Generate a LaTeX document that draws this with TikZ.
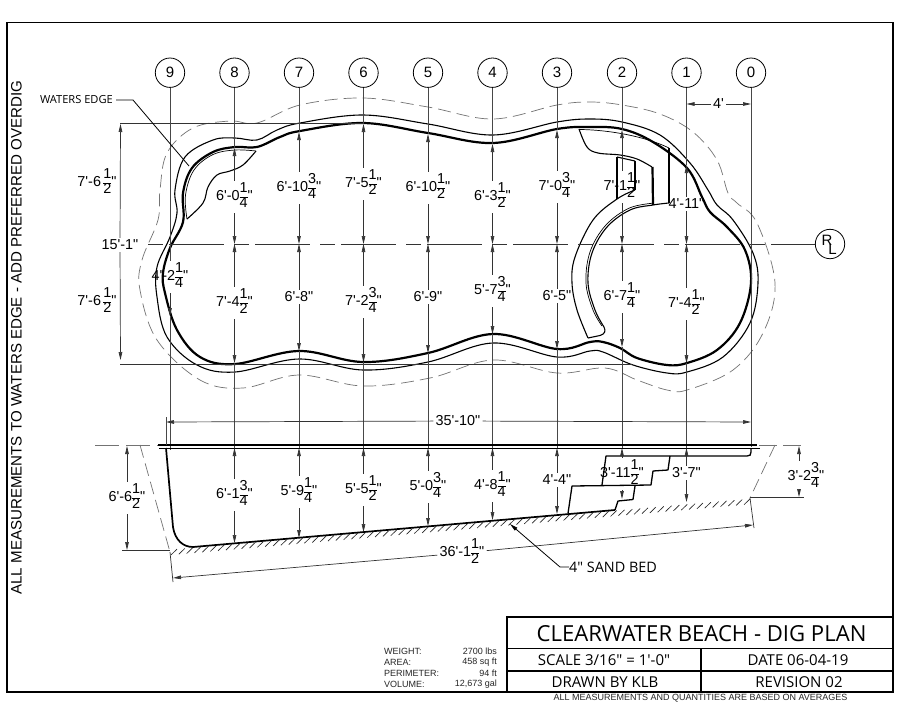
\documentclass[tikz,border=0pt]{standalone}
\usepackage{fontspec}
\setmainfont{Liberation Sans}[Ligatures=TeXOff]
\newfontfamily\titlefont{Open Sans}
\usetikzlibrary{arrows.meta,calc}
\newcommand\fr[2]{\raisebox{-7pt}{\setlength{\tabcolsep}{0pt}\renewcommand{\arraystretch}{.84}\begin{tabular}[b]{c}#1\\\hline #2\end{tabular}}}
\tikzset{
  gridln/.style={line width=.8pt,draw=black!72},
  dimln/.style={line width=.7pt,draw=black!80,-{Stealth[length=8pt,width=3.6pt,inset=0pt]}},
  dimplain/.style={line width=.7pt,draw=black!80},
  wallthick/.style={line width=2.2pt,line join=round},
  wallthin/.style={line width=1.1pt,line join=round},
  finethin/.style={line width=.7pt,line join=round},
  overdig/.style={line width=.7pt,draw=black!55,dash pattern=on 13pt off 6pt},
  lbl/.style={inner sep=2pt,font=\fontsize{14.4}{16}\selectfont},
  bubble/.style={circle,draw,line width=.8pt,minimum size=29.4pt,inner sep=0pt,font=\fontsize{15}{17}\selectfont},
  heavyln/.style={line width=1.7pt},
  stairln/.style={line width=1.3pt,line join=round},
  tblock/.style={font=\titlefont\fontsize{15}{17}\selectfont,inner sep=0pt},
  smalltxt/.style={font=\fontsize{9}{10}\selectfont,inner sep=0pt,text=black!85},
}
% id, x, top wall y, top text, top text y, bottom text, bottom text y, bottom wall y
\newcommand\plancol[8]{%
  \coordinate (tw#1) at (#2,#3);
  \coordinate (mid#1) at (#2,244);
  \coordinate (bw#1) at (#2,#8);
  \coordinate (st#1) at (#2,448);
  \node[lbl] (ta#1) at (#2,#5) {#4};
  \node[lbl] (ba#1) at (#2,#7) {#6};
  \draw[gridln] (c#1) -- (tw#1);
  \draw[dimln] (ta#1) -- (tw#1);
  \draw[dimln] (ta#1) -- (mid#1);
  \draw[dimln] (ba#1) -- (mid#1);
  \draw[dimln] (ba#1) -- (bw#1);
  \draw[gridln] (bw#1) -- (st#1);
}
% id, x, text, text y, floor y
\newcommand\seccol[5]{%
  \coordinate (sf#1) at (#2,#5);
  \node[lbl] (sa#1) at (#2,#4) {#3};
  \draw[dimln] (sa#1) -- (st#1);
  \draw[dimln] (sa#1) -- (sf#1);
}
\begin{document}
\begin{tikzpicture}[x=1pt,y=-1pt]
\useasboundingbox (0,0) rectangle (900,707);
\fill[white] (0,0) rectangle (900,707);
% frame
\draw[line width=1.4pt] (7,22.5) -- (893,22.5) -- (893,692) -- (7,692) -- cycle;
% over-dig outline
\draw[overdig] plot[smooth cycle,tension=.6] coordinates {
 (300,105)(363,98)(428,107)(493,119)(557,105)(590,102)(622,105)(660,114)(693,132)(717,160)(728,193)(737,203)(757,223)(775,283)(763,333)(733,370)(687,390)(667,390)(637,380)(605,368)(557,373)(493,360)(430,378)(363,386)(299,375)(243,388)(200,380)(157,340)(140,290)(142,260)(158,220)(160,190)(167,153)(193,128)(230,121)(257,123)};
% outer wall
\draw[wallthin] plot[smooth cycle,tension=.6] coordinates {
 (300,123)(363,115)(428,124)(493,135)(557,122)(590,119)(622,122)(660,135)(690,163)(708,190)(717,205)(733,220)(753,253)(758,283)(750,323)(723,357)(687,372)(667,373)(633,365)(603,352)(590,351)(557,357)(493,343)(428,362)(363,370)(299,359)(235,372)(197,365)(167,337)(157,297)(157,267)(170,237)(177,213)(175,190)(185,157)(213,140)(235,138)(257,140)(277,130)};
% waters edge
\draw[wallthick] plot[smooth cycle,tension=.6] coordinates {
 (300,131)(363,123)(428,133)(493,143)(557,129)(590,127)(622,129)(653,142)(687,168)(702,197)(710,212)(727,227)(745,250)(751,283)(740,323)(717,350)(687,363)(667,365)(637,358)(620,348)(603,342)(590,342)(557,349)(493,334)(428,353)(363,362)(299,351)(235,364)(200,357)(177,330)(165,293)(163,273)(170,248)(183,222)(183,193)(192,168)(213,152)(235,147)(257,147)(280,137)};
% left bench
\draw[wallthin] plot[smooth,tension=.6] coordinates {(256,151)(243,165)(230,171)(217,175)(208,187)(203,203)(187,219)};
\draw[finethin] plot[smooth,tension=.6] coordinates {(187,219)(185.5,195)(194,170)(213,154.5)(235,150)(256,151)};
% right steps
\draw[wallthin] plot[smooth,tension=.6] coordinates {(579,129)(587,147)(598,153)(620,155)(637,159)(652,167)};
\draw[finethin] (579,129.5) .. controls (600,129.5) and (640,134) .. (669,148);
\draw[wallthick] (652.5,167) -- (653,205);
\draw[wallthick] (669,148) -- (669,203);
\draw[wallthin] (617,157) -- (617,199);
\draw[wallthin] (617,157) -- (635,161);
\draw[wallthick] (635,161) -- (635,190);
\draw[wallthin] plot[smooth,tension=.6] coordinates {(635,190)(617,199)(593,220)(575,257)(572,283)(577,310)(588,338)};
\draw[wallthin] (588,338) -- (600,335.5) .. controls (605,334) and (606,331) .. (604,327);
\draw[wallthin] plot[smooth,tension=.6] coordinates {(604,327)(595,310)(588,283)(592,253)(607,227)(630,210)(653,205)(669,203)};
\draw[finethin] plot[smooth,tension=.6] coordinates {(602,326)(593,310)(586,283)(590,252)(605.5,225.5)(629,208.2)(653,203.2)};
% tangents
\draw[dimplain] (120,123) -- (363,123);
\draw[dimplain] (120,364) -- (632,364);
% centre line
\node[bubble] (rl) at (830,244) {};
\node[font=\fontsize{15}{17}\selectfont,inner sep=0pt] (rlr) at (827,240) {R};
\node[font=\fontsize{15}{17}\selectfont,inner sep=0pt] (rll) at (832.5,249.5) {L};
\coordinate (clstart) at (148,244);
\draw[dimplain,dash pattern=on 15pt off 6pt on 55pt off 10pt] (clstart) -- (rl);
% bubbles
\node[bubble] (c9) at (170,72.7) {9};
\node[bubble] (c8) at (234.5,72.7) {8};
\node[bubble] (c7) at (299,72.7) {7};
\node[bubble] (c6) at (363.5,72.7) {6};
\node[bubble] (c5) at (428,72.7) {5};
\node[bubble] (c4) at (492.5,72.7) {4};
\node[bubble] (c3) at (557,72.7) {3};
\node[bubble] (c2) at (622,72.7) {2};
\node[bubble] (c1) at (686.5,72.7) {1};
\node[bubble] (c0) at (751,72.7) {0};
% columns
\plancol{8}{234.5}{148}{6'-0\fr{1}{4}"}{197}{7'-4\fr{1}{2}"}{303}{363}
\plancol{7}{299}{132}{6'-10\fr{3}{4}"}{188}{6'-8"}{297}{351}
\plancol{6}{363.5}{124}{7'-5\fr{1}{2}"}{184}{7'-2\fr{3}{4}"}{302}{362}
\plancol{5}{428}{134}{6'-10\fr{1}{2}"}{188}{6'-9"}{297}{353}
\plancol{4}{492.5}{144}{6'-3\fr{1}{2}"}{197}{5'-7\fr{3}{4}"}{291}{334}
\plancol{3}{557}{130}{7'-0\fr{3}{4}"}{187}{6'-5"}{296}{349}
\plancol{2}{622}{130}{7'-1\fr{1}{2}"}{187}{6'-7\fr{1}{4}"}{297}{347}
\plancol{1}{686.5}{165}{4'-11"}{204}{7'-4\fr{1}{2}"}{304}{363}
% column 9 and 0
\node[lbl] (ba9) at (170,277) {4'-2\fr{1}{4}"};
\coordinate (bw9) at (170,316);
\coordinate (st9) at (170,450);
\draw[gridln] (c9) -- (ba9);
\draw[dimln] (ba9) -- (bw9);
\draw[gridln] (bw9) -- (st9);
\coordinate (st0) at (751,447);
\draw[gridln] (c0) -- (st0);
% 4' dim
\node[lbl,fill=white] (d4) at (718.5,104) {4'};
\coordinate (d4l) at (686.5,104);
\coordinate (d4r) at (751,104);
\draw[dimln] (d4) -- (d4l);
\draw[dimln] (d4) -- (d4r);
% left overall dims
\node[lbl] (hu) at (97,183) {7'-6\,\fr{1}{2}"};
\node[lbl] (hl) at (97,302) {7'-6\,\fr{1}{2}"};
\node[lbl] (hm) at (120,245) {15'-1"};
\coordinate (hut) at (120.5,124);
\coordinate (hlb) at (120.5,360);
\draw[dimln] (hm) -- (hut);
\draw[dimln] (hm) -- (hlb);
% waters edge leader
\node[font=\titlefont\fontsize{11.1}{13}\selectfont,inner sep=0pt,anchor=east] (we) at (113,100) {WATERS EDGE};
\coordinate (wea) at (133,100);
\coordinate (web) at (189,166);
\draw[line width=.8pt] (we.east) ++(3,0) -- (wea) -- (web);
% section
\draw[heavyln] (158,445.2) -- (757,445.2);
\draw[line width=1.4pt] (159,448.2) -- (760,448.2);
\coordinate (sl) at (95,445);
\coordinate (sr) at (805,445);
\draw[overdig,dash pattern=on 24pt off 7pt on 24pt off 7pt] (sl) -- (158,445);
\draw[overdig,dash pattern=on 18pt off 6pt] (759,445) -- (sr);
\draw[overdig] (140,445) -- (170,552);
\draw[overdig] (775,445) -- (750,498);
% shell
\draw[wallthick,line width=1.7pt] (166,448) -- (173,527) .. controls (175,540) and (183,547) .. (193,547) -- (615,510);
\draw[stairln] (615,510) -- (618,501) -- (633,499.5) -- (635,486);
\draw[stairln] (568,513.5) -- (572,486) -- (651,485) -- (653,471) -- (668,470) -- (670,456);
\draw[stairln] (602,485) -- (606,456) -- (747,456) .. controls (750,456) and (751,455) .. (751,452) -- (751,448);
% sand bed hatch
\foreach \i in {0,...,73}{
  \pgfmathsetmacro{\hx}{171+7.85*\i}
  \pgfmathsetmacro{\hy}{549-.0877*(\hx-170)}
  \draw[line width=.65pt,draw=black!85] (\hx,\hy+6) -- (\hx+6,\hy+.2);
}
% section dims
\seccol{8}{234.5}{6'-1\fr{3}{4}"}{495}{543}
\seccol{7}{299}{5'-9\fr{1}{4}"}{492}{538}
\seccol{6}{363.5}{5'-5\fr{1}{2}"}{490}{532}
\seccol{5}{428}{5'-0\fr{3}{4}"}{487}{526}
\seccol{4}{492.5}{4'-8\fr{1}{4}"}{486}{520}
\seccol{3}{557}{4'-4"}{480}{514}
\seccol{2}{622}{3'-11\fr{1}{2}"}{474}{499}
\seccol{1}{686.5}{3'-7"}{473}{502}
% 35'-10
\node[lbl] (w35) at (458,421) {35'-10"};
\coordinate (w35l) at (166,422);
\coordinate (w35r) at (751,422);
\draw[dimln] (w35) -- (w35l);
\draw[dimln] (w35) -- (w35r);
\coordinate (w35top) at (166,417);
\coordinate (w35bot) at (166,445);
\draw[gridln] (w35top) -- (w35bot);
% 6'-6 1/2
\node[lbl] (dl) at (127,498) {6'-6\fr{1}{2}"};
\coordinate (dlt) at (127,446);
\coordinate (dlb) at (127,550);
\draw[dimln] (dl) -- (dlt);
\draw[dimln] (dl) -- (dlb);
\coordinate (dlx) at (122,550);
\coordinate (dly) at (170,550);
\draw[dimplain] (dlx) -- (dly);
% 3'-2 3/4
\node[lbl] (dr) at (806,477) {3'-2\fr{3}{4}"};
\coordinate (drt) at (799,446);
\coordinate (drb) at (799,497);
\draw[dimln] (dr.north -| drt) -- (drt);
\draw[dimln] (dr.south -| drb) -- (drb);
\coordinate (drx) at (750,497);
\coordinate (dry) at (804,497);
\draw[dimplain] (drx) -- (dry);
% 36'-1 1/2
\node[lbl] (l36) at (462,553) {36'-1\fr{1}{2}"};
\coordinate (l36a) at (173,578);
\coordinate (l36b) at (753,525);
\draw[dimln] (l36) -- (l36a);
\draw[dimln] (l36) -- (l36b);
\coordinate (e1) at (170,552);
\coordinate (e2) at (173,582);
\coordinate (e3) at (750,498);
\coordinate (e4) at (754,528);
\draw[dimplain] (e1) -- (e2);
\draw[dimplain] (e3) -- (e4);
% sand bed
\node[font=\titlefont\fontsize{14.4}{16}\selectfont,inner sep=0pt,anchor=west] (sb) at (569,567) {4" SAND BED};
\coordinate (sbk) at (560,567);
\coordinate (sbt) at (510,524);
\draw[line width=.8pt,-{Stealth[length=8pt,width=3.6pt,inset=0pt]}] (sb.west) -- (sbk) -- (sbt);
% side note
\node[rotate=90,font=\fontsize{15.1}{17}\selectfont,inner sep=0pt] (side) at (16.5,337.5) {ALL MEASUREMENTS TO WATERS EDGE - ADD PREFERRED OVERDIG};
% title block
\draw[line width=1.7pt] (507,692) -- (507,617) -- (893,617);
\draw[line width=1.7pt] (507,648.5) -- (893,648.5);
\draw[line width=1.7pt] (507,671) -- (893,671);
\draw[line width=1.7pt] (701,648.5) -- (701,692);
\node[tblock,font=\titlefont\fontsize{22.1}{26}\selectfont] (t1) at (701.5,634) {CLEARWATER BEACH - DIG PLAN};
\node[tblock] (t2) at (604,660) {SCALE 3/16" = 1'-0"};
\node[tblock] (t3) at (798,660.5) {DATE 06-04-19};
\node[tblock] (t4) at (605,682) {DRAWN BY KLB};
\node[tblock] (t5) at (799,682) {REVISION 02};
\node[smalltxt] (t6) at (700.5,698) {ALL MEASUREMENTS AND QUANTITIES ARE BASED ON AVERAGES};
\node[smalltxt,anchor=west] (w1) at (384,651) {WEIGHT:};
\node[smalltxt,anchor=west] (w2) at (384,662) {AREA:};
\node[smalltxt,anchor=west] (w3) at (384,673) {PERIMETER:};
\node[smalltxt,anchor=west] (w4) at (384,684) {VOLUME:};
\node[smalltxt,anchor=east] (v1) at (497,651) {2700 lbs};
\node[smalltxt,anchor=east] (v2) at (497,662) {458 sq ft};
\node[smalltxt,anchor=east] (v3) at (497,673) {94 ft};
\node[smalltxt,anchor=east] (v4) at (497,684) {12,673 gal};
\end{tikzpicture}
\end{document}
